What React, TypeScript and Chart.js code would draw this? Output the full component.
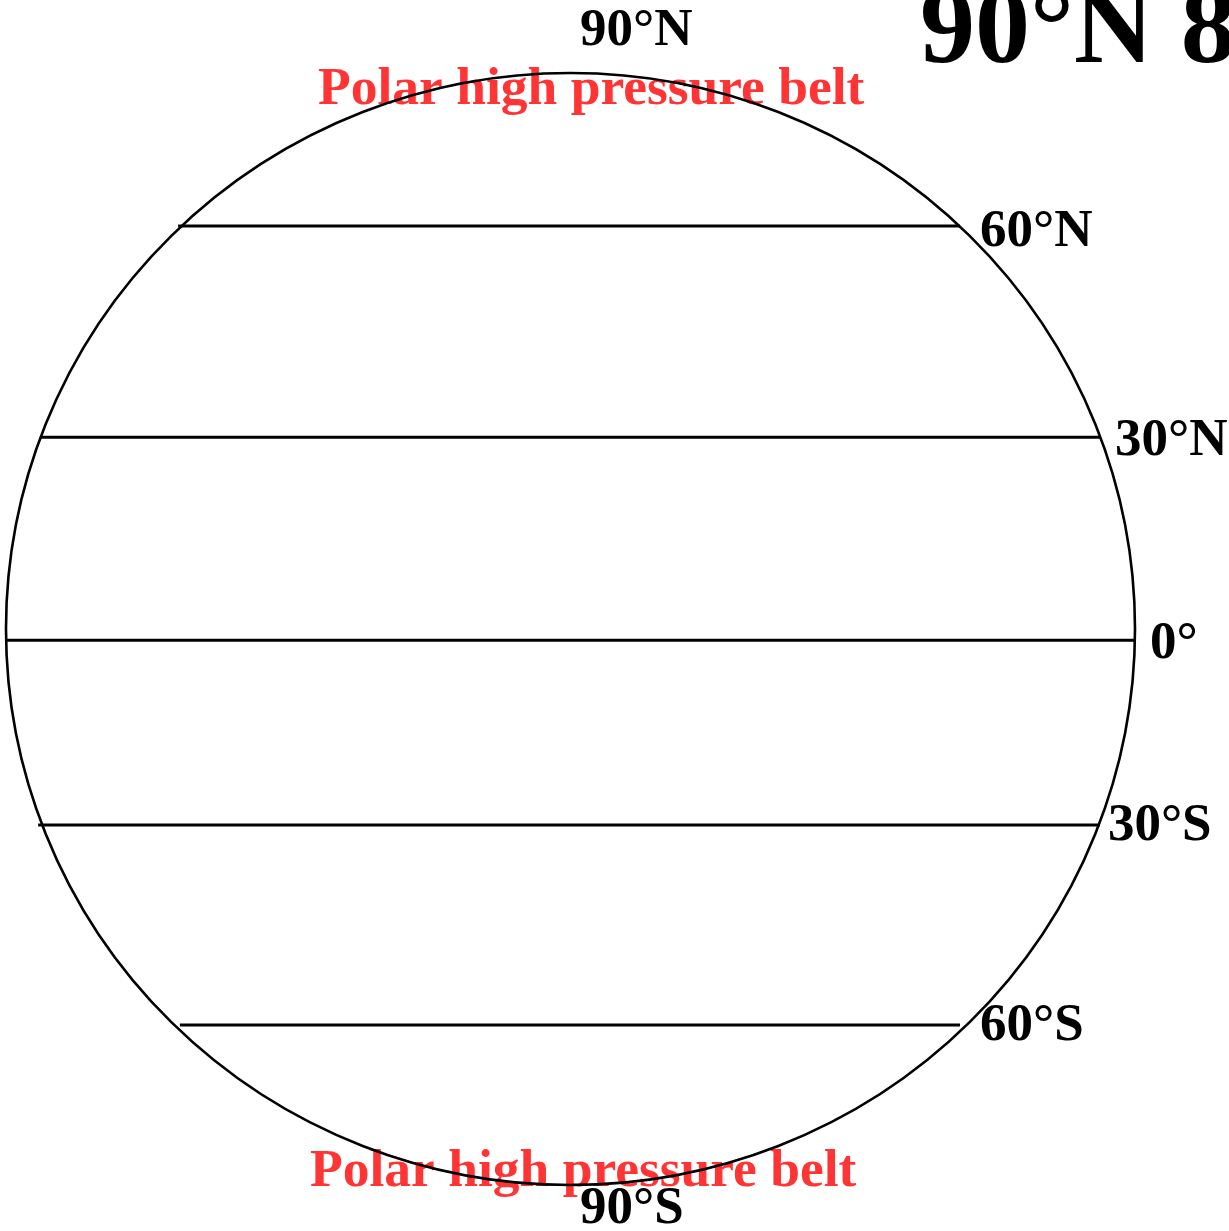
import React, { useEffect, useRef } from "react";
import { Chart, registerables } from "chart.js";

Chart.register(...registerables);

// Latitude lines (data units: globe radius = 1)
const latLabels = ["60°N", "30°N", "0°", "30°S", "60°S"];
const latY = [0.725, 0.345, -0.02, -0.3525, -0.712];
const latXStart = [-0.695, -0.94, -1.0, -0.943, -0.692];
const latXEnd = [0.69, 0.938, 1.0, 0.938, 0.69];

// Latitude label anchors (data units)
const labelTexts = ["90°N", "60°N", "30°N", "0°", "30°S", "60°S", "90°S"];
const labelX = [0.0168, 0.7254, 0.9646, 1.0266, 0.952, 0.7254, 0.0168];
const labelY = [1.05, 0.689, 0.313, -0.052, -0.3795, -0.739, -1.068];

// Pressure belt annotations
const beltTexts = ["Polar high pressure belt", "Polar high pressure belt"];
const beltX = [-0.4473, -0.4615];
const beltY = [0.944, -1.0018];

// Cut-off title
const titleText = "90°N 8";
const titleX = 0.619;
const titleY = 1.0198;

// Axis ranges
const xMin = -1.0106;
const xMax = 1.1665;
const yMin = -1.0827;
const yMax = 1.1313;

const W = 1229;
const H = 1231;

export default function App() {
  const ref = useRef<HTMLCanvasElement | null>(null);

  useEffect(() => {
    document.body.style.margin = "0";
    const canvas = ref.current;
    if (!canvas) return;

    const globePlugin = {
      id: "globe",
      beforeDatasetsDraw(chart: any) {
        const { ctx, scales } = chart;
        const xs = scales.x;
        const ys = scales.y;
        ctx.save();
        ctx.textAlign = "left";
        ctx.textBaseline = "alphabetic";

        // title
        ctx.fillStyle = "#000000";
        ctx.font = "bold 110px 'Liberation Serif'";
        ctx.fillText(titleText, xs.getPixelForValue(titleX), ys.getPixelForValue(titleY));

        // latitude labels
        ctx.font = "bold 53px 'Liberation Serif'";
        labelTexts.forEach((t, i) => {
          ctx.fillText(t, xs.getPixelForValue(labelX[i]), ys.getPixelForValue(labelY[i]));
        });

        // belts
        ctx.fillStyle = "#ff3535";
        ctx.font = "bold 53.5px 'Liberation Serif'";
        beltTexts.forEach((t, i) => {
          ctx.fillText(t, xs.getPixelForValue(beltX[i]), ys.getPixelForValue(beltY[i]));
        });

        // globe outline
        const cx = xs.getPixelForValue(0);
        const cy = ys.getPixelForValue(0);
        const rx = xs.getPixelForValue(1) - cx;
        const ry = cy - ys.getPixelForValue(1);
        ctx.beginPath();
        ctx.ellipse(cx, cy, rx, ry, 0, 0, Math.PI * 2);
        ctx.strokeStyle = "#000000";
        ctx.lineWidth = 2.6;
        ctx.stroke();
        ctx.restore();
      },
    };

    const datasets = latLabels.map((lab, i) => ({
      label: lab,
      data: [
        { x: latXStart[i], y: latY[i] },
        { x: latXEnd[i], y: latY[i] },
      ],
      showLine: true,
      borderColor: "#000000",
      borderWidth: 3,
      pointRadius: 0,
      fill: false,
    }));

    const chart = new Chart(canvas, {
      type: "scatter",
      data: { datasets },
      options: {
        animation: false,
        responsive: false,
        devicePixelRatio: 1,
        layout: { padding: 0 },
        plugins: {
          legend: { display: false },
          tooltip: { enabled: false },
          title: { display: false },
        },
        scales: {
          x: { type: "linear", min: xMin, max: xMax, display: false },
          y: { type: "linear", min: yMin, max: yMax, display: false },
        },
      },
      plugins: [globePlugin],
    });

    return () => chart.destroy();
  }, []);

  return (
    <div style={{ width: W, height: H, background: "#ffffff", overflow: "hidden" }}>
      <canvas ref={ref} width={W} height={H} style={{ display: "block", width: W, height: H }} />
    </div>
  );
}
